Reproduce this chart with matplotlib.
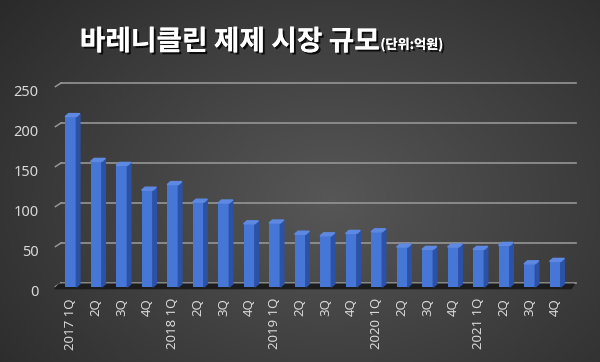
import matplotlib.pyplot as plt
import matplotlib.patheffects as pe
import numpy as np
from matplotlib.patches import Polygon
from matplotlib.transforms import offset_copy, ScaledTranslation

plt.rcParams['font.family'] = ['Noto Sans CJK KR', 'DejaVu Sans']

# data (unit: 억원)
years = ["2017", "2018", "2019", "2020", "2021"]
quarters = ["1Q", "2Q", "3Q", "4Q"]
values = [213, 157, 152, 121, 128, 106, 105, 79, 80, 66,
          64, 67, 69, 50, 47, 50, 47, 52, 29, 32]
labels = [f"{y} {q}" if q == "1Q" else q for y in years for q in quarters]
yticks = [0, 50, 100, 150, 200, 250]

fig = plt.figure(figsize=(6, 3.62), dpi=100)

# dark radial background
bg = fig.add_axes([0, 0, 1, 1], zorder=-10)
yy, xx = np.mgrid[0:362, 0:600]
r = np.sqrt(((xx - 330) / 420) ** 2 + ((yy - 200) / 300) ** 2)
shade = np.clip(0.34 - 0.17 * r, 0.16, 0.34)
bg.imshow(np.dstack([shade] * 3), aspect="auto", extent=[0, 1, 0, 1])
bg.axis("off")

ax = fig.add_axes([58 / 600, (362 - 287) / 362, (573 - 58) / 600, 200 / 362])
ax.set_facecolor("none")
ax.set_xlim(-0.5, 19.7)
ax.set_ylim(0, 250)

# px -> data conversion for the 3D look
px_x = (19.7 + 0.5) / (573 - 58)
px_y = 250 / 200
dx, dy = 3.5 * px_x, 3 * px_y

# back-wall gridlines, shifted up/right
back = offset_copy(ax.transData, fig=fig, x=3, y=4, units="dots")
for t in yticks:
    ax.plot([-0.5, 19.7], [t, t], color="#959595", lw=1.2, transform=back,
            clip_on=False, zorder=1)
    ax.plot([-0.72, -0.5], [t - 4.5, t], color="#959595", lw=1.1,
            transform=back, clip_on=False, zorder=1)

# floor
ax.add_patch(Polygon([(-0.62, -2), (19.62, -2), (19.75, 3.5), (-0.45, 3.5)],
                     closed=True, color="#1c1c1c", zorder=2, clip_on=False))

x = np.arange(len(values))
w = 0.44
ax.bar(x, values, width=w, color="#4676d6", zorder=3)
for xi, v in zip(x, values):
    xr = xi + w / 2
    xl = xi - w / 2
    ax.add_patch(Polygon([(xr, 0), (xr + dx, dy), (xr + dx, v + dy), (xr, v)],
                         closed=True, color="#2c52a6", zorder=3, clip_on=False))
    ax.add_patch(Polygon([(xl, v), (xr, v), (xr + dx, v + dy), (xl + dx, v + dy)],
                         closed=True, color="#5d89e2", zorder=3, clip_on=False))

for s in ax.spines.values():
    s.set_visible(False)
ax.set_yticks(yticks)
ax.set_yticklabels([str(t) for t in yticks], color="#d9d9d9", fontsize=10.5,
                   family=["Noto Sans", "DejaVu Sans"])
ax.set_xticks(x)
ax.set_xticklabels(labels, rotation=90, color="#d9d9d9", fontsize=9.5,
                   family=["Noto Sans", "DejaVu Sans"])
ax.tick_params(length=0, pad=8)
ax.tick_params(axis="y", pad=14)
down = ScaledTranslation(0, -3 / 100, fig.dpi_scale_trans)
for lab in ax.get_yticklabels():
    lab.set_transform(lab.get_transform() + down)

shadow = [pe.withSimplePatchShadow(offset=(1.5, -1.5), shadow_rgbFace="black", alpha=0.8),
          pe.Normal()]
title = fig.text(0.133, 0.862, "바레니클린 제제 시장 규모", fontsize=20,
                 fontweight="bold", color="white", ha="left", va="baseline",
                 path_effects=shadow)
ax.annotate("(단위:억원)", xy=(1, 0), xycoords=title, xytext=(1, 3),
            textcoords="offset points", fontsize=9.5, fontweight="bold",
            color="white", ha="left", va="bottom", path_effects=shadow,
            annotation_clip=False)

fig.savefig("out.png", dpi=100)
